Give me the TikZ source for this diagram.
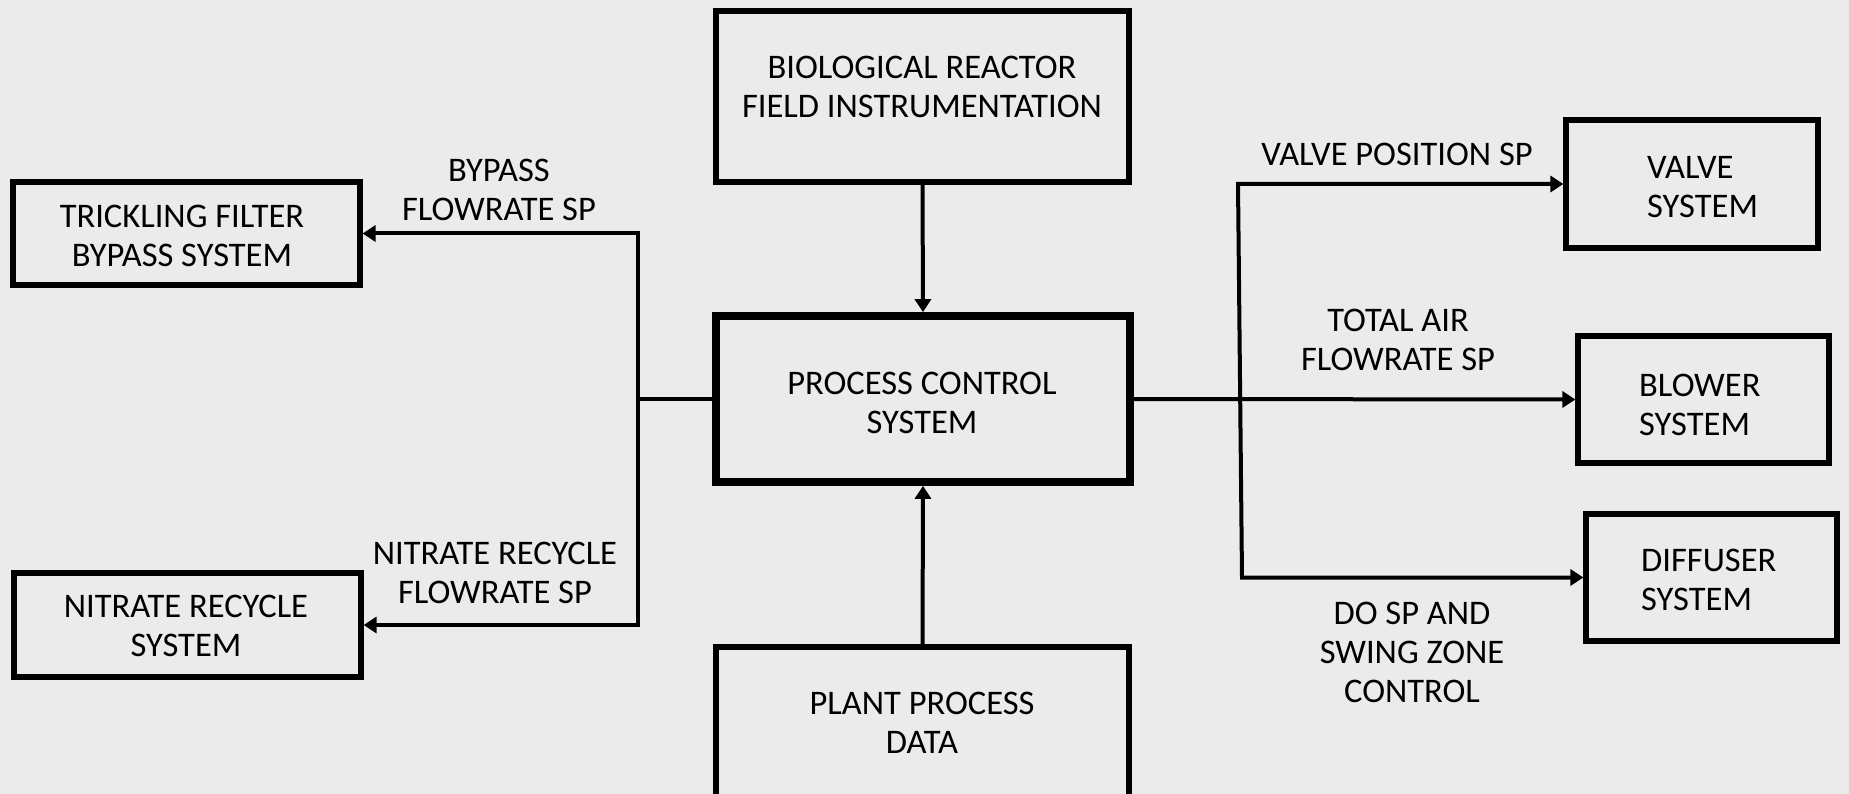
\documentclass[tikz,border=0pt]{standalone}
\usepackage{fontspec}
\setmainfont{Carlito}
\usetikzlibrary{arrows.meta}
\definecolor{paper}{RGB}{235,235,235}
\begin{document}
\begin{tikzpicture}[x=1pt,y=-1pt,
  box/.style={draw, line width=5.2pt, inner sep=0pt},
  mainbox/.style={draw, line width=7.7pt, inner sep=0pt},
  lbl/.style={inner sep=0pt, align=center, font=\fontsize{34.5}{39}\selectfont},
  lbll/.style={lbl, align=left, anchor=west},
  conn/.style={line width=4pt},
  tip/.style={-{Triangle[length=13pt,width=16pt]}},
  tips/.style={{Triangle[length=13pt,width=16pt]}-{Triangle[length=13pt,width=16pt]}}
]
% canvas
\fill[paper] (0,0) rectangle (1849,794);
\clip (0,0) rectangle (1849,794);

% blocks
\node[box, minimum width=413pt, minimum height=171pt] (bio) at (922.5,96.5) {};
\node[mainbox, minimum width=414pt, minimum height=166pt] (pcs) at (923,399) {};
\node[box, minimum width=413pt, minimum height=163pt] (plant) at (922.5,728.5) {};
\node[box, minimum width=347pt, minimum height=103pt] (tf) at (186.5,233.5) {};
\node[box, minimum width=347pt, minimum height=104pt] (nr) at (187.5,625) {};
\node[box, minimum width=252pt, minimum height=128pt] (va) at (1692,184) {};
\node[box, minimum width=251pt, minimum height=127pt] (bl) at (1703.5,399.5) {};
\node[box, minimum width=251pt, minimum height=127pt] (df) at (1711.5,577.5) {};

% block texts
\node[lbl] (bioT) at (922,87) {BIOLOGICAL REACTOR\\FIELD INSTRUMENTATION};
\node[lbl] (pcsT) at (922,402.5) {PROCESS CONTROL\\SYSTEM};
\node[lbl] (plantT) at (922,722.5) {PLANT PROCESS\\DATA};
\node[lbl] (tfT) at (182,235.5) {TRICKLING FILTER\\BYPASS SYSTEM};
\node[lbl] (nrT) at (186,626) {NITRATE RECYCLE\\SYSTEM};
\node[lbll] (vaT) at (1647,187) {VALVE\\SYSTEM};
\node[lbll] (blT) at (1639,405) {BLOWER\\SYSTEM};
\node[lbll] (dfT) at (1641,580) {DIFFUSER\\SYSTEM};

% signal labels
\node[lbl] (bypT) at (499,189.5) {BYPASS\\FLOWRATE SP};
\node[lbl] (nrsT) at (495,573) {NITRATE RECYCLE\\FLOWRATE SP};
\node[lbl] (vpT) at (1397,154.5) {VALVE POSITION SP};
\node[lbl] (taT) at (1398,339.5) {TOTAL AIR\\FLOWRATE SP};
\node[lbl] (doT) at (1412,652.5) {DO SP AND\\SWING ZONE\\CONTROL};

% bus points
\coordinate (lbx) at (638,399);
\coordinate (rt) at (1238,184);
\coordinate (rb) at (1242,577.5);

% connectors
\draw[conn, tip] (bio.south) -- (pcs.north);
\draw[conn, tip] (plant.north) -- (pcs.south);
\draw[conn] (pcs.west) -- (lbx);
\draw[conn, tips] (tf.east) -- (lbx |- tf.east) -- (lbx |- nr.east) -- (nr.east);
\draw[conn, tip] (pcs.east) -- (bl.west);
\draw[conn, tips] (va.west) -- (rt) -- (rb) -- (df.west);
\end{tikzpicture}
\end{document}
